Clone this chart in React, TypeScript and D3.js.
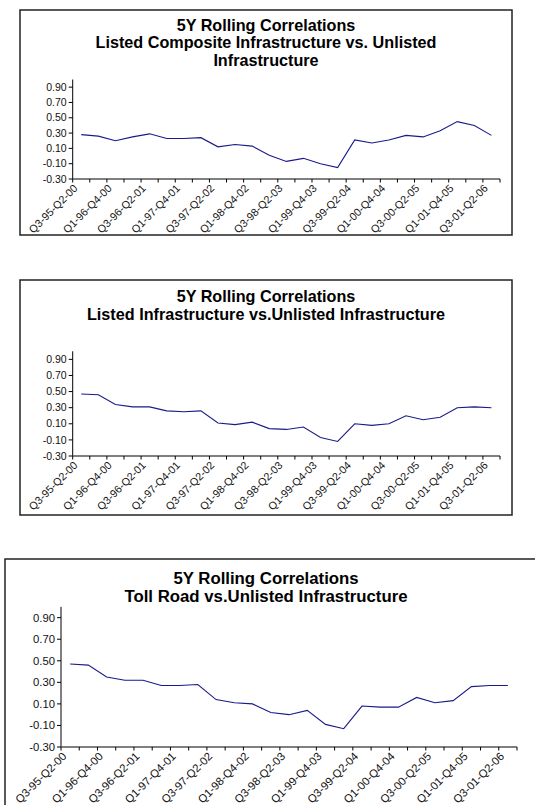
import React from 'react';
import * as d3 from 'd3';

// quarterly 5-year windows
const categories = [
  'Q3-95-Q2-00', 'Q4-95-Q3-00', 'Q1-96-Q4-00', 'Q2-96-Q1-01', 'Q3-96-Q2-01',
  'Q4-96-Q3-01', 'Q1-97-Q4-01', 'Q2-97-Q1-02', 'Q3-97-Q2-02', 'Q4-97-Q3-02',
  'Q1-98-Q4-02', 'Q2-98-Q1-03', 'Q3-98-Q2-03', 'Q4-98-Q3-03', 'Q1-99-Q4-03',
  'Q2-99-Q1-04', 'Q3-99-Q2-04', 'Q4-99-Q3-04', 'Q1-00-Q4-04', 'Q2-00-Q1-05',
  'Q3-00-Q2-05', 'Q4-00-Q3-05', 'Q1-01-Q4-05', 'Q2-01-Q1-06', 'Q3-01-Q2-06'
];

const compositeValues = [
  0.28, 0.26, 0.20, 0.25, 0.29, 0.23, 0.23, 0.24, 0.12, 0.15, 0.13, 0.01, -0.07,
  -0.03, -0.10, -0.15, 0.21, 0.17, 0.21, 0.27, 0.25, 0.33, 0.45, 0.40, 0.27
];

const listedValues = [
  0.47, 0.46, 0.34, 0.31, 0.31, 0.26, 0.25, 0.26, 0.11, 0.09, 0.12, 0.04, 0.03,
  0.06, -0.07, -0.12, 0.10, 0.08, 0.10, 0.20, 0.15, 0.18, 0.30, 0.31, 0.30
];

const tollRoadValues = [
  0.47, 0.46, 0.35, 0.32, 0.32, 0.27, 0.27, 0.28, 0.14, 0.11, 0.10, 0.02, 0.00,
  0.04, -0.09, -0.13, 0.08, 0.07, 0.07, 0.16, 0.11, 0.13, 0.26, 0.27, 0.27
];

const yTicks = [-0.3, -0.1, 0.1, 0.3, 0.5, 0.7, 0.9];
const yDomain = [-0.3, 1.0];

const titles = [
  ['5Y Rolling Correlations', 'Listed Composite Infrastructure vs. Unlisted', 'Infrastructure'],
  ['5Y Rolling Correlations', 'Listed Infrastructure vs.Unlisted Infrastructure'],
  ['5Y Rolling Correlations', 'Toll Road vs.Unlisted Infrastructure']
];

const FONT = 'Arial, "Liberation Sans", Helvetica, sans-serif';

const charts = [
  {
    title: titles[0], values: compositeValues,
    box: { x: 20, y: 10, w: 492, h: 225 },
    plot: { left: 72.7, right: 500, top: 79.5, bottom: 179 },
    titleX: 266, titleY: [30.5, 48, 65.5], titleSize: 16.2, tickSize: 10.5, catSize: 10.8
  },
  {
    title: titles[1], values: listedValues,
    box: { x: 20, y: 280, w: 492, h: 235 },
    plot: { left: 72.7, right: 500, top: 351.3, bottom: 456 },
    titleX: 266, titleY: [301.5, 320], titleSize: 16.2, tickSize: 10.5, catSize: 10.8
  },
  {
    title: titles[2], values: tollRoadValues,
    box: { x: 5, y: 559, w: 545, h: 270 },
    plot: { left: 61, right: 517, top: 606.9, bottom: 747 },
    titleX: 266, titleY: [583.5, 602], titleSize: 16.8, tickSize: 11.3, catSize: 11.3
  }
];

function LineChart({ cfg }) {
  const { plot, box } = cfg;
  const x = d3.scaleBand().domain(categories).range([plot.left, plot.right]).padding(0);
  const y = d3.scaleLinear().domain(yDomain).range([plot.bottom, plot.top]);
  const line = d3.line<number>()
    .x((d, i) => x(categories[i]) + x.bandwidth() / 2)
    .y(d => y(d));

  const bounds = categories.map(c => x(c)).concat([plot.right]);

  return (
    <g>
      <rect x={box.x} y={box.y} width={box.w} height={box.h} fill="#fff" stroke="#222" strokeWidth={1.5} />
      {cfg.title.map((t, i) => (
        <text key={i} x={cfg.titleX} y={cfg.titleY[i]} textAnchor="middle"
          fontFamily={FONT} fontWeight="bold" fontSize={cfg.titleSize} fill="#000">{t}</text>
      ))}

      {/* y axis */}
      <line x1={plot.left} x2={plot.left} y1={plot.top} y2={plot.bottom} stroke="#000" strokeWidth={1} />
      {yTicks.map(t => (
        <g key={t}>
          <line x1={plot.left - 4} x2={plot.left} y1={y(t)} y2={y(t)} stroke="#000" />
          <text x={plot.left - 6} y={y(t)} dy="0.35em" textAnchor="end"
            fontFamily={FONT} fontSize={cfg.tickSize} fill="#111">{t.toFixed(2)}</text>
        </g>
      ))}

      {/* x axis */}
      <line x1={plot.left} x2={plot.right} y1={plot.bottom} y2={plot.bottom} stroke="#555" strokeWidth={1.6} />
      {bounds.map((b, i) => (
        <line key={i} x1={b} x2={b} y1={plot.bottom} y2={plot.bottom + 3.5} stroke="#000" />
      ))}
      {categories.map((c, i) => i % 2 === 0 ? (
        <text key={c} textAnchor="end" fontFamily={FONT} fontSize={cfg.catSize} fill="#111"
          transform={`translate(${x(c) + x.bandwidth() / 2 - 3},${plot.bottom + 10}) rotate(-45)`}>{c}</text>
      ) : null)}

      <path d={line(cfg.values)} fill="none" stroke="#1a1a8a" strokeWidth={1.1} />
    </g>
  );
}

export default function App() {
  return (
    <svg width={535} height={805} style={{ position: 'absolute', left: 0, top: 0, background: '#fff' }}>
      {charts.map((c, i) => <LineChart key={i} cfg={c} />)}
    </svg>
  );
}
